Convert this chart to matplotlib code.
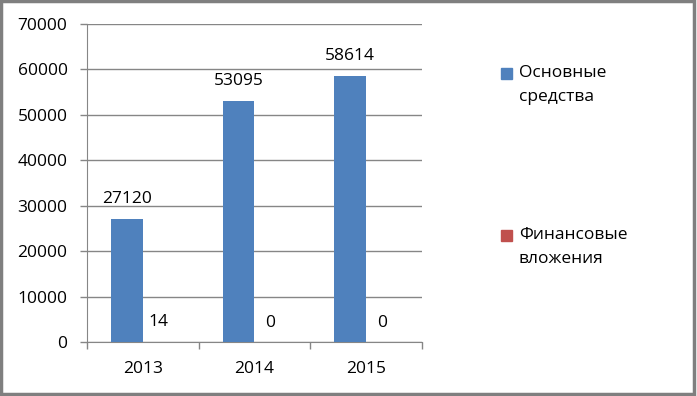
import matplotlib.pyplot as plt
from matplotlib.patches import Rectangle
import numpy as np

# Data
years = ["2013", "2014", "2015"]
fixed_assets = [27120, 53095, 58614]
fin_investments = [14, 0, 0]
series_names = ["Основные\nсредства", "Финансовые\nвложения"]
series_colors = ["#4F81BD", "#C0504D"]

plt.rcParams["font.family"] = ["Open Sans", "DejaVu Sans"]
plt.rcParams["font.size"] = 12.5

fig = plt.figure(figsize=(6.97, 3.96), dpi=100)
ax = fig.add_axes([87 / 697, 1 - 342 / 396, 335 / 697, 318 / 396])

x = np.arange(len(years))
w = 0.286
grid_c = "#868686"

for vals, off, col in zip([fixed_assets, fin_investments], [-w / 2, w / 2], series_colors):
    bars = ax.bar(x + off, vals, width=w, color=col, zorder=3)
    for b, v in zip(bars, vals):
        ax.annotate(str(v), (b.get_x() + b.get_width() / 2, v),
                    xytext=(0, 14), textcoords="offset points",
                    ha="center", va="center", color="black")

ax.set_xlim(-0.5, 2.5)
ax.set_ylim(0, 70000)
ax.set_yticks(range(0, 70001, 10000))
ax.yaxis.grid(True, color=grid_c, linewidth=1, zorder=0)
ax.set_xticks(x)
ax.set_xticklabels(years)
ax.set_xticks([-0.5, 0.5, 1.5, 2.5], minor=True)
ax.tick_params(axis="x", which="major", length=0, pad=14)
ax.tick_params(axis="x", which="minor", length=5, color=grid_c, width=1)
ax.tick_params(axis="y", length=5, color=grid_c, width=1, pad=9)
for s in ["top", "right"]:
    ax.spines[s].set_visible(False)
for s in ["left", "bottom"]:
    ax.spines[s].set_color(grid_c)

# legend drawn by hand to match wide spacing
legend_y = [73, 235]
for name, col, ty in zip(series_names, series_colors, legend_y):
    fig.patches.append(Rectangle((501 / 697, 1 - (ty + 6) / 396), 11 / 697, 11 / 396,
                                 transform=fig.transFigure, color=col))
    fig.text(519 / 697, 1 - (ty - 8) / 396, name, ha="left", va="top",
             linespacing=1.7)

# figure border with shadow
fig.patches.append(Rectangle((0.002, 0.004), 0.993, 0.993, transform=fig.transFigure,
                             fill=False, edgecolor="#7f7f7f", linewidth=2.5))

fig.savefig("out.png", dpi=100)
